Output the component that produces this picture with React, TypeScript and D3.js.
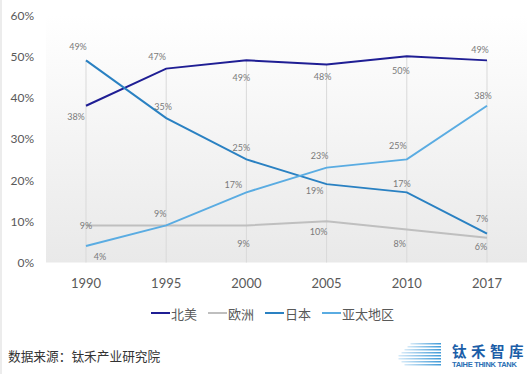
import React from "react"
import * as d3 from "d3"

const years = ["1990", "1995", "2000", "2005", "2010", "2017"]
const seriesNames = ["北美", "欧洲", "日本", "亚太地区"]
const northAmerica = [38, 47, 49, 48, 50, 49]
const europe = [9, 9, 9, 10, 8, 6]
const japan = [49, 35, 25, 19, 17, 7]
const asiaPacific = [4, 9, 17, 23, 25, 38]
const yTicks = [0, 10, 20, 30, 40, 50, 60]

const colors = ["#1f1e94", "#bfbfbf", "#2a81c2", "#5aace2"]

// label offsets (dx, dy) per point, null = label hidden
const labelOffsets: ([number, number] | null)[][] = [
  [[-10, 11], [-9, -12], [-5, 17], [-4, 12], [-6, 14], [-7, -11]],
  [[0, 0], null, [-3, 18], [-8, 10], [-7, 14], [-6, 9]],
  [[-8, -14], [-3, -12], [-5, -12], [-12, 6], [-5, -9], [-5, -15]],
  [[14, 10], [-6, -12], [-13, -8], [-7, -12], [-9, -14], [-4, -10]],
]

export default function App() {
  const width = 532
  const height = 374
  const values = [northAmerica, europe, japan, asiaPacific]

  const x = d3.scalePoint<string>().domain(years).range([86, 487])
  const y = d3.scaleLinear().domain([0, 60]).range([262.5, 15])

  const line = d3
    .line<number>()
    .x((d, i) => x(years[i]) as number)
    .y((d) => y(d))

  const numFont = "Lato, 'Noto Sans', sans-serif"
  const cjkFont = "'Noto Sans CJK SC', sans-serif"

  // legend layout
  const legendX = [151, 208, 265, 322]

  return (
    <svg
      width={width}
      height={height}
      style={{ position: "absolute", left: 0, top: 0, background: "#fff" }}
    >
      <defs>
        <linearGradient id="plotBg" x1="0" y1="0" x2="0" y2="1">
          <stop offset="0" stopColor="#ffffff" />
          <stop offset="1" stopColor="#e9e9e9" />
        </linearGradient>
        <linearGradient id="logoG" x1="0" y1="0" x2="1" y2="0">
          <stop offset="0" stopColor="#d6eaf8" />
          <stop offset="1" stopColor="#3f9ad8" />
        </linearGradient>
      </defs>
      <rect x={0} y={0} width={2} height={height} fill="#ececec" />
      <rect x={46} y={15} width={481} height={247.5} fill="url(#plotBg)" />

      {/* drop lines */}
      {years.map((yr, i) => {
        const mx = d3.max(values, (s) => s[i]) as number
        return (
          <line
            key={yr}
            x1={x(yr)}
            x2={x(yr)}
            y1={y(mx)}
            y2={y(0)}
            stroke="#d9d9d9"
            strokeWidth={1}
          />
        )
      })}

      {/* y labels */}
      {yTicks.map((t) => (
        <text
          key={t}
          x={34}
          y={y(t)}
          textAnchor="end"
          dominantBaseline="central"
          fontSize={12}
          fill="#595959"
          fontFamily={numFont}
        >
          {t}%
        </text>
      ))}

      {/* x labels */}
      {years.map((yr) => (
        <text
          key={yr}
          x={x(yr)}
          y={283}
          textAnchor="middle"
          dominantBaseline="central"
          fontSize={13}
          fill="#595959"
          fontFamily={numFont}
        >
          {yr}
        </text>
      ))}

      {values.map((s, si) => (
        <path
          key={si}
          d={line(s) as string}
          fill="none"
          stroke={colors[si]}
          strokeWidth={2}
        />
      ))}

      {values.map((s, si) =>
        s.map((v, i) => {
          const off = labelOffsets[si][i]
          if (!off) return null
          return (
            <text
              key={si + "-" + i}
              x={(x(years[i]) as number) + off[0]}
              y={y(v) + off[1]}
              textAnchor="middle"
              dominantBaseline="central"
              fontSize={9}
              fill="#7a7a7a"
              fontFamily={numFont}
            >
              {v}%
            </text>
          )
        })
      )}

      {/* legend */}
      {seriesNames.map((n, i) => (
        <g key={n}>
          <line
            x1={legendX[i]}
            x2={legendX[i] + 19}
            y1={313}
            y2={313}
            stroke={colors[i]}
            strokeWidth={2}
          />
          <text
            x={legendX[i] + 20}
            y={313}
            dominantBaseline="central"
            fontSize={13}
            fill="#595959"
            fontFamily={cjkFont}
          >
            {n}
          </text>
        </g>
      ))}

      <text
        x={8}
        y={355}
        dominantBaseline="central"
        fontSize={12.7}
        fill="#333"
        fontFamily={cjkFont}
      >
        数据来源：钛禾产业研究院
      </text>

      {/* logo */}
      <g>
        {d3.range(8).map((k) => (
          <rect
            key={k}
            x={397 + Math.abs(k - 4.5) * 3}
            y={343 + k * 3}
            width={44 - Math.abs(k - 4.5) * 3}
            height={1.5}
            fill="url(#logoG)"
          />
        ))}
        <text
          x={452}
          y={350}
          dominantBaseline="central"
          fontSize={14.5}
          fontWeight="bold"
          fill="#1b5ea8"
          letterSpacing={4.5}
          fontFamily={cjkFont}
        >
          钛禾智库
        </text>
        <text
          x={452}
          y={364}
          dominantBaseline="central"
          fontSize={7.5}
          fontWeight="bold"
          fill="#2a6fb4"
          fontFamily="'Liberation Sans', Arial, sans-serif"
          letterSpacing={-0.3}
        >
          TAIHE THINK TANK
        </text>
      </g>
    </svg>
  )
}
